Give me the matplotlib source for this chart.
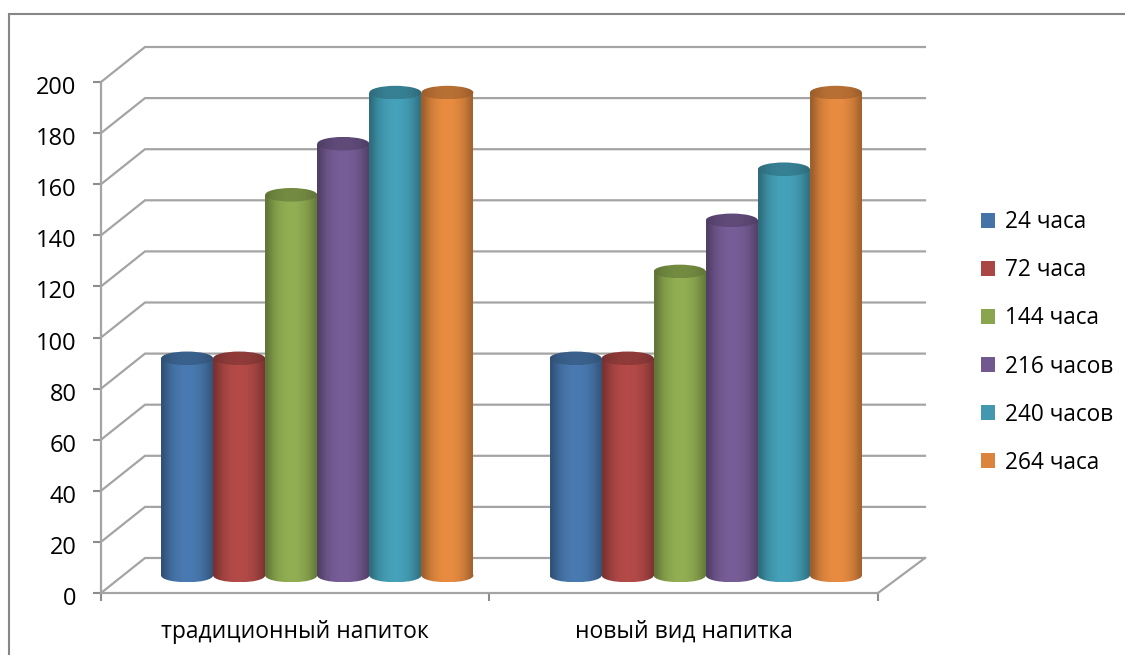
import numpy as np
import matplotlib
matplotlib.use("Agg")
import matplotlib.pyplot as plt
from matplotlib.path import Path
from matplotlib.patches import Patch
from matplotlib.lines import Line2D
from matplotlib.transforms import Affine2D, ScaledTranslation

categories = ["традиционный напиток", "новый вид напитка"]
series_names = ["24 часа", "72 часа", "144 часа", "216 часов", "240 часов", "264 часа"]
h24 = [85, 85]
h72 = [85, 85]
h144 = [149, 119]
h216 = [169, 139]
h240 = [189, 159]
h264 = [189, 189]
series_values = [h24, h72, h144, h216, h240, h264]
colors = ["#4573A7", "#AA4644", "#89A54E", "#71588F", "#4198AF", "#DB843D"]
y_ticks = list(range(0, 201, 20))

plt.rcParams["font.family"] = ["Open Sans", "DejaVu Sans"]
W, H = 1125, 655
fig = plt.figure(figsize=(W / 100, H / 100), dpi=100)
L, R, B, T = 101, 878, 593, 82
ax = fig.add_axes([L / W, (H - B) / H, (R - L) / W, (B - T) / H])
ax.set_xlim(0, 2)
ax.set_ylim(0, 200)
px_x = 2 / (R - L)
px_y = 200 / (B - T)
GRID = "#A4A4A4"

# depth of the 3-D box, in data units
dx, dy = 44 * px_x, 35 * px_y
dx_r = 47 * px_x

for v in y_ticks:
    ax.plot([0, dx, 2 + dx_r], [v, v + dy, v + dy], color=GRID, lw=1.6,
            clip_on=False, zorder=1, solid_joinstyle="miter")
ax.plot([2, 2 + dx_r], [0, dy], color=GRID, lw=1.6, clip_on=False, zorder=1)

for s in ("top", "right"):
    ax.spines[s].set_visible(False)
for s in ("left", "bottom"):
    ax.spines[s].set_color(GRID)
    ax.spines[s].set_linewidth(1.6)
ax.set_yticks(y_ticks)
ax.set_xticks([0, 1, 2])
ax.set_xticklabels([])
ax.set_xticks([0.5, 1.5], minor=True)
ax.set_xticklabels(categories, minor=True, fontsize=16.5)
ax.tick_params(axis="x", which="minor", length=0, pad=19.5)
ax.tick_params(axis="x", which="major", length=6, width=1.5, color="#8C8C8C")
ax.tick_params(axis="y", length=6, width=1.5, color="#8C8C8C", labelsize=17, pad=11.5)
shift = ScaledTranslation(0, -3 / 100, fig.dpi_scale_trans)
for lab in ax.get_yticklabels():
    lab.set_transform(lab.get_transform() + shift)
ax.patch.set_alpha(0)

shade = np.array([0.72, 0.82, 0.92, 0.98, 1.02, 1.05, 1.06, 1.06, 1.05, 1.02, 0.98, 0.92, 0.83, 0.74])
n_groups = len(categories)
n_series = len(series_values)
bar_w = 0.134
ry = 6.8 * px_y
z = 3
for g in range(n_groups):
    x_start = g + 0.5 - n_series * bar_w / 2 + dx / 2
    base = dy / 2
    for i, values in enumerate(series_values):
        x0 = x_start + i * bar_w
        x1 = x0 + bar_w
        top = base + values[g]
        rgb = np.array(matplotlib.colors.to_rgb(colors[i]))
        grad = np.clip(shade[:, None] * rgb, 0, 1)[None, :, :]
        cx = (x0 + x1) / 2
        rect = Path([(x0, base), (x1, base), (x1, top), (x0, top), (x0, base)],
                    closed=True)
        ell_tf = Affine2D().scale(bar_w / 2, ry)
        bottom_e = Path.unit_circle().transformed(ell_tf + Affine2D().translate(cx, base))
        top_e = Path.unit_circle().transformed(ell_tf + Affine2D().translate(cx, top))
        body = ax.imshow(grad, extent=[x0, x1, base - ry, top], aspect="auto",
                         interpolation="bilinear", zorder=z)
        body.set_clip_path(rect, transform=ax.transData)
        body2 = ax.imshow(grad, extent=[x0, x1, base - ry, top], aspect="auto",
                          interpolation="bilinear", zorder=z)
        body2.set_clip_path(bottom_e, transform=ax.transData)
        cap_grad = np.clip((0.5 * shade[::-1] + 0.5)[:, None] * rgb * 0.82, 0, 1)[None, :, :]
        cap = ax.imshow(cap_grad, extent=[x0, x1, top - ry, top + ry], aspect="auto",
                        interpolation="bilinear", zorder=z + 0.5)
        cap.set_clip_path(top_e, transform=ax.transData)
        z += 1
ax.set_xlim(0, 2)
ax.set_ylim(0, 200)

handles = [Patch(facecolor=c, edgecolor="none") for c in colors]
leg = ax.legend(handles, series_names, loc="center left",
                bbox_to_anchor=(981 / W, 1 - 342.5 / H), bbox_transform=fig.transFigure,
                frameon=False, fontsize=16.3, borderpad=0, borderaxespad=0,
                labelspacing=1.065, handlelength=0.64, handleheight=0.64, handletextpad=0.44)

frame_x = 9 / W
frame_y = 1 - 14 / H
fig.add_artist(Line2D([frame_x, frame_x, 1], [0, frame_y, frame_y], color="#868686", lw=1.5,
                      solid_joinstyle="miter"))
fig.savefig("out.png", dpi=100)
